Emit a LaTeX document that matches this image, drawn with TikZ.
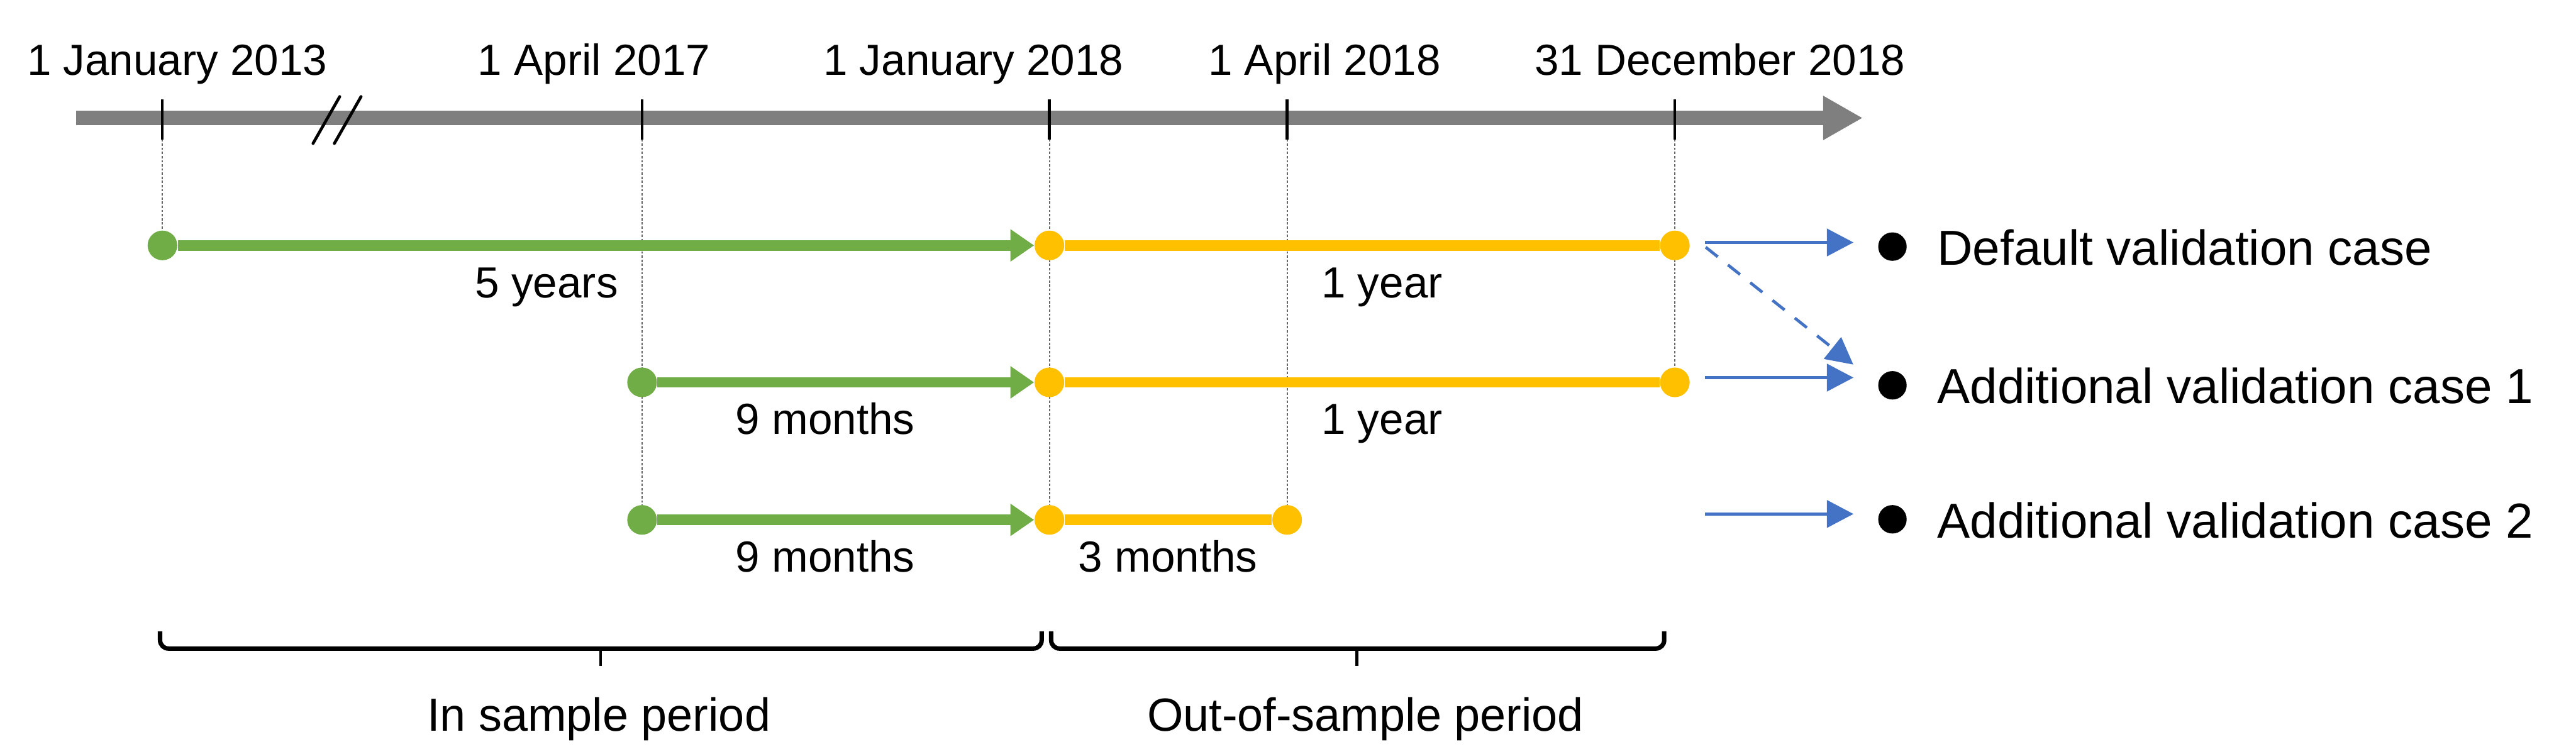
\documentclass[tikz,border=0pt]{standalone}
\usepackage{fontspec}
\setmainfont{Liberation Sans}
\usetikzlibrary{arrows.meta, positioning, backgrounds}

\definecolor{axisgray}{HTML}{7F7F7F}
\definecolor{insample}{HTML}{70AD47}
\definecolor{outsample}{HTML}{FFC000}
\definecolor{caseblue}{HTML}{4472C4}

\begin{document}
\begin{tikzpicture}[
    datelabel/.style={
        anchor=base,
        inner sep=0pt,
        font=\fontsize{20.9}{25}\selectfont
    },
    caselabel/.style={
        anchor=base west,
        inner sep=0pt,
        font=\fontsize{23.6}{28}\selectfont
    },
    periodlabel/.style={
        anchor=base,
        inner sep=0pt,
        font=\fontsize{22.3}{27}\selectfont
    },
    greendot/.style={
        circle,
        fill=insample,
        inner sep=0pt,
        minimum size=5mm
    },
    yellowdot/.style={
        circle,
        fill=outsample,
        inner sep=0pt,
        minimum size=5mm
    },
    bullet/.style={
        circle,
        fill=black,
        inner sep=0pt,
        minimum size=4.8mm
    },
    datetick/.style={
        line width=0.45mm
    },
    guide/.style={
        gray!80!black,
        line width=0.2mm,
        dash pattern=on 0.4mm off 0.3mm
    },
    trainspan/.style={
        insample,
        line width=1.75mm,
        -{Triangle[length=4mm, width=5.2mm]}
    },
    testspan/.style={
        outsample,
        line width=1.75mm
    },
    casearrow/.style={
        caseblue,
        line width=0.5mm,
        -{Triangle[length=4.5mm, width=4.6mm]}
    },
    bracket/.style={
        line width=0.75mm,
        rounded corners=1.4mm
    }
]

\useasboundingbox (0,0) rectangle (43.45,12.71);

% ------------------------------------------------
% Time axis
% ------------------------------------------------

\coordinate (axisL) at (1.285,10.72);
\coordinate (axisR) at (31.42,10.72);

\draw[axisgray, line width=2.4mm, -{Triangle[length=6.7mm, width=7mm]}] (axisL) -- (axisR);

\foreach \nm/\x in {t13/2.74, t17/10.83, t18/17.70, a18/21.71, d18/28.25} {
    \coordinate (\nm) at (\x,10.36);
    \draw[datetick] ([yshift=6.7mm]\nm) -- (\nm);
}

% axis break
\draw[line width=0.5mm, line cap=round] (5.28,10.29) -- (5.73,11.08);
\draw[line width=0.5mm, line cap=round] (5.64,10.29) -- (6.09,11.08);

\node[datelabel] (d2013) at (2.99,11.44) {1 January 2013};
\node[datelabel] (d2017) at (10.02,11.44) {1 April 2017};
\node[datelabel] (d2018) at (16.42,11.44) {1 January 2018};
\node[datelabel] (a2018) at (22.34,11.44) {1 April 2018};
\node[datelabel] (e2018) at (29.01,11.44) {31 December 2018};

% ------------------------------------------------
% Validation rows
% ------------------------------------------------

\node[greendot]  (g1)  at (2.74,8.57) {};
\node[yellowdot] (y1s) at (17.70,8.57) {};
\node[yellowdot] (y1e) at (28.25,8.57) {};

\node[greendot]  (g2)  at (10.83,6.26) {};
\node[yellowdot] (y2s) at (17.70,6.26) {};
\node[yellowdot] (y2e) at (28.25,6.26) {};

\node[greendot]  (g3)  at (10.83,3.94) {};
\node[yellowdot] (y3s) at (17.70,3.94) {};
\node[yellowdot] (y3e) at (21.71,3.94) {};

\begin{scope}[on background layer]
\draw[guide] (t13) -- (g1);
\draw[guide] (t17) -- (g3);
\draw[guide] (t18) -- (y3s);
\draw[guide] (a18) -- (y3e);
\draw[guide] (d18) -- (y2e);
\end{scope}

\draw[trainspan] (g1) -- (y1s);
\draw[testspan]  (y1s) -- (y1e);
\draw[trainspan] (g2) -- (y2s);
\draw[testspan]  (y2s) -- (y2e);
\draw[trainspan] (g3) -- (y3s);
\draw[testspan]  (y3s) -- (y3e);

\node[datelabel] (span1a) at (9.22,7.69) {5 years};
\node[datelabel] (span1b) at (23.31,7.69) {1 year};
\node[datelabel] (span2a) at (13.92,5.38) {9 months};
\node[datelabel] (span2b) at (23.31,5.38) {1 year};
\node[datelabel] (span3a) at (13.92,3.06) {9 months};
\node[datelabel] (span3b) at (19.70,3.06) {3 months};

% ------------------------------------------------
% Validation cases
% ------------------------------------------------

\node[bullet] (b1) at (31.92,8.55) {};
\node[bullet] (b2) at (31.92,6.21) {};
\node[bullet] (b3) at (31.92,3.95) {};

\node[caselabel] (case1) at (32.67,8.24) {Default validation case};
\node[caselabel] (case2) at (32.67,5.90) {Additional validation case 1};
\node[caselabel] (case3) at (32.67,3.64) {Additional validation case 2};

\coordinate (src1) at (28.76,8.62);
\coordinate (src2) at (28.76,6.34);
\coordinate (src3) at (28.76,4.04);
\coordinate (src1d) at (28.77,8.54);
\coordinate (dst2d) at (31.26,6.56);

\draw[casearrow, shorten >=4.1mm] (src1) -- (src1 -| b1.west);
\draw[casearrow, shorten >=4.1mm] (src2) -- (src2 -| b2.west);
\draw[casearrow, shorten >=4.1mm] (src3) -- (src3 -| b3.west);
\draw[casearrow, dash pattern=on 2.6mm off 2.2mm] (src1d) -- (dst2d);

% ------------------------------------------------
% Sample periods
% ------------------------------------------------

\draw[bracket] (2.70,2.06) |- (17.57,1.77) -- (17.57,2.06);
\draw[line width=0.5mm] (10.13,1.77) -- (10.13,1.48);

\draw[bracket] (17.73,2.06) |- (28.07,1.77) -- (28.07,2.06);
\draw[line width=0.5mm] (22.89,1.77) -- (22.89,1.48);

\node[periodlabel] (inper)  at (10.10,0.38) {In sample period};
\node[periodlabel] (outper) at (23.03,0.38) {Out-of-sample period};

\end{tikzpicture}
\end{document}
